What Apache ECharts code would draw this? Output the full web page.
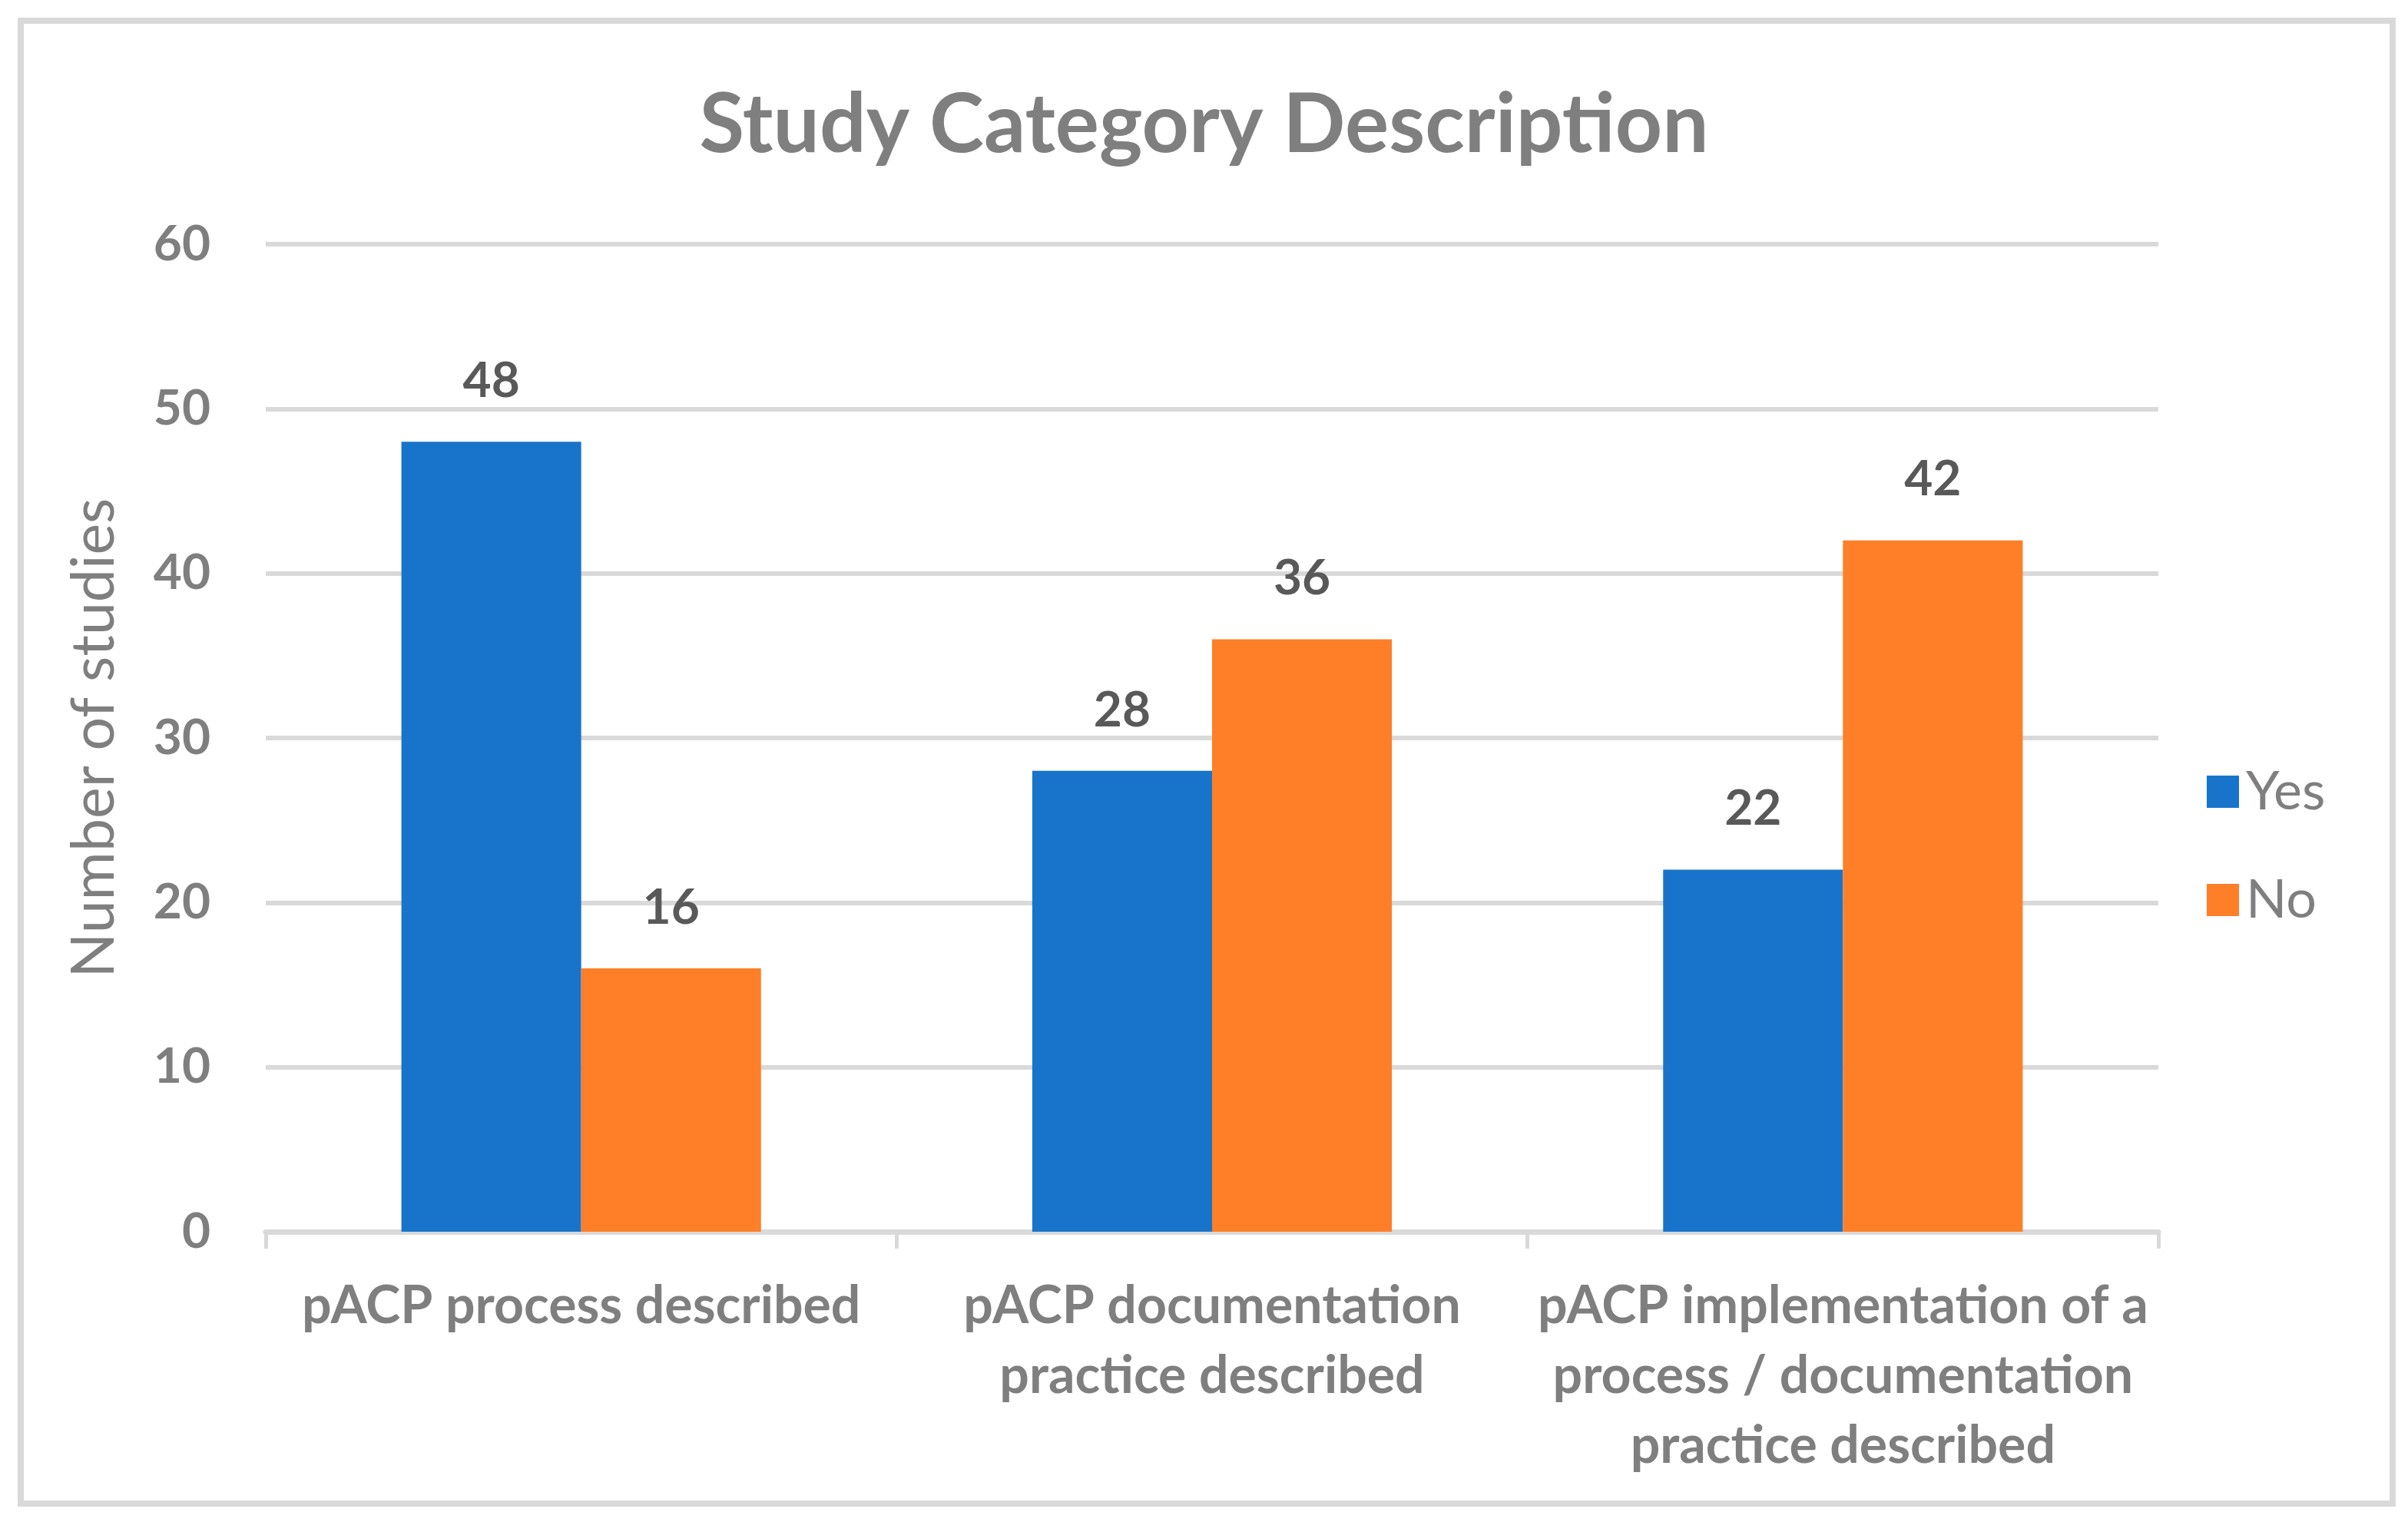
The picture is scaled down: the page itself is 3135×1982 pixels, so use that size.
<!DOCTYPE html>
<html>
<head>
<meta charset="utf-8">
<script src="https://cdn.jsdelivr.net/npm/echarts@6/dist/echarts.min.js"></script>
<style>
html,body{margin:0;padding:0;background:#fff;}
#chart{width:3135px;height:1982px;}
</style>
</head>
<body>
<div id="chart"></div>
<script>
const title = 'Study Category Description';
const categories = [
  'pACP process described',
  'pACP documentation\npractice described',
  'pACP implementation of a\nprocess / documentation\npractice described'
];
const seriesNames = ['Yes', 'No'];
const yesValues = [48, 28, 22];
const noValues = [16, 36, 42];
const yTicks = { min: 0, max: 60, interval: 10 };
const yAxisName = 'Number of studies';

const FONT = 'Lato';
const GRAY = '#7f7f7f';
const chart = echarts.init(document.getElementById('chart'), null, {renderer: 'canvas'});
chart.setOption({
  backgroundColor: '#ffffff',
  animation: false,
  color: ['#1874CA', '#FE7F27'],
  title: {
    text: title,
    left: 'center',
    top: 105,
    textStyle: { fontFamily: FONT, fontWeight: 'bold', fontSize: 107, color: GRAY }
  },
  legend: {
    orient: 'vertical',
    left: 2868,
    top: 991,
    itemWidth: 42,
    itemHeight: 42,
    itemGap: 71,
    icon: 'rect',
    data: seriesNames,
    textStyle: { fontFamily: FONT, fontSize: 70, color: GRAY, padding: [0,0,0,4] }
  },
  grid: { left: 346, right: 325, top: 318, bottom: 378, containLabel: false },
  graphic: [{
    type: 'rect', silent: true,
    shape: { x: 27, y: 27, width: 3088, height: 1931 },
    style: { fill: 'none', stroke: '#d9d9d9', lineWidth: 8 }
  }],
  xAxis: {
    type: 'category',
    data: categories,
    axisLine: { lineStyle: { color: '#d9d9d9', width: 7 } },
    axisTick: { show: true, length: 22, lineStyle: { color: '#d9d9d9', width: 5 } },
    axisLabel: {
      interval: 0, margin: 52,
      fontFamily: FONT, fontWeight: 'bold', fontSize: 68, lineHeight: 91, color: GRAY
    }
  },
  yAxis: {
    type: 'value',
    min: yTicks.min, max: yTicks.max, interval: yTicks.interval,
    name: yAxisName,
    nameLocation: 'middle',
    nameRotate: 90,
    nameGap: 184,
    nameTextStyle: { fontFamily: FONT, fontSize: 77, color: GRAY },
    axisLine: { show: false },
    axisTick: { show: false },
    splitLine: { lineStyle: { color: '#d9d9d9', width: 6 } },
    axisLabel: { margin: 72, fontFamily: FONT, fontWeight: 'bold', fontSize: 64, color: GRAY }
  },
  series: [
    {
      name: seriesNames[0], type: 'bar', data: yesValues,
      barGap: '0%', barCategoryGap: '43%',
      label: { show: true, position: 'top', distance: 47, fontFamily: FONT, fontWeight: 'bold', fontSize: 64, color: '#595959' }
    },
    {
      name: seriesNames[1], type: 'bar', data: noValues,
      barGap: '0%', barCategoryGap: '43%',
      label: { show: true, position: 'top', distance: 47, fontFamily: FONT, fontWeight: 'bold', fontSize: 64, color: '#595959' }
    }
  ]
});
</script>
</body>
</html>
